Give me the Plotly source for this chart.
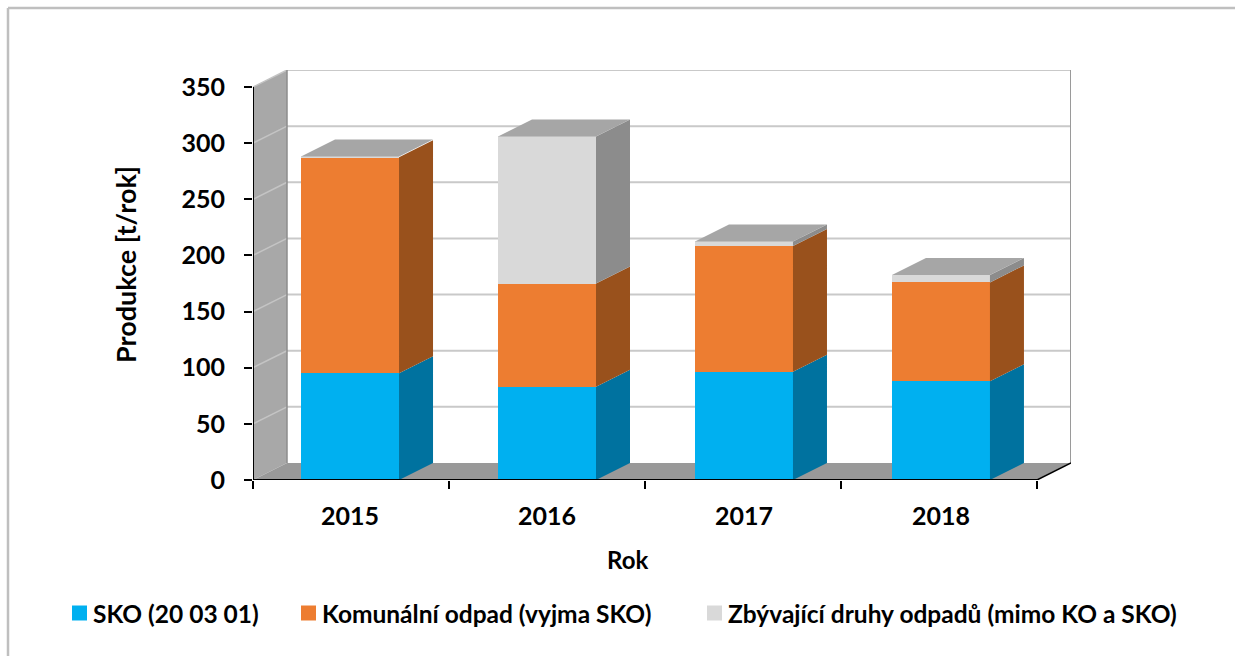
import plotly.graph_objects as go

years = ["2015", "2016", "2017", "2018"]
series_names = ["SKO (20 03 01)", "Komunální odpad (vyjma SKO)", "Zbývající druhy odpadů (mimo KO a SKO)"]
sko = [95, 83, 96.5, 88]
komunalni = [192.5, 92, 112, 88]
zbyvajici = [0.7, 131, 4, 6.5]
y_ticks = [0, 50, 100, 150, 200, 250, 300, 350]
y_title = "Produkce [t/rok]"
x_title = "Rok"

W, H = 1235, 656
X0, X1, XB = 253, 1037, 1071   # front-left, front-right, back-right pixels
Y0, Y350, YB = 480, 87, 70     # zero, 350, back-top pixels
px_x = (X1 - X0) / 4
px_y = (Y0 - Y350) / 350
DX = (XB - X1) / px_x
DY = (Y0 - 463) / px_y
XMIN, XMAX = -0.5, 3.5
BAR_W = 0.5

front = ["#00B0F0", "#ED7D31", "#D9D9D9"]
side = ["#00729F", "#99511C", "#8C8C8C"]
TOP = "#A6A6A6"

def px(x): return x / W
def py(y): return 1 - y / H

fig = go.Figure()
stack = [sko, komunalni, zbyvajici]
xs = [-0.005, 1.0, 2.005, 3.01]

for name, vals, col in zip(series_names, stack, front):
    fig.add_bar(x=xs, y=vals, name=name, width=BAR_W, marker=dict(color=col, line=dict(width=0)),
                showlegend=False, hovertemplate=name + ": %{y}<extra></extra>")

base = [0] * len(xs)
for vals, col in zip(stack, side):
    sx, sy = [], []
    for i, v in enumerate(vals):
        r = xs[i] + BAR_W / 2
        b, t = base[i], base[i] + v
        sx += [r, r + DX, r + DX, r, r, None]
        sy += [b, b + DY, t + DY, t, b, None]
    fig.add_scatter(x=sx, y=sy, mode="lines", fill="toself", fillcolor=col, line=dict(width=0),
                    showlegend=False, hoverinfo="skip")
    base = [a + c for a, c in zip(base, vals)]

tx, ty = [], []
for i, t in enumerate(base):
    l, r = xs[i] - BAR_W / 2, xs[i] + BAR_W / 2
    tx += [l, r, r + DX, l + DX, l, None]
    ty += [t, t, t + DY, t + DY, t, None]
fig.add_scatter(x=tx, y=ty, mode="lines", fill="toself", fillcolor=TOP, line=dict(width=0),
                showlegend=False, hoverinfo="skip")

shapes = []
def poly(pts, fill, layer="below"):
    d = "M" + "L".join(f"{a},{b}" for a, b in pts) + "Z"
    shapes.append(dict(type="path", path=d, xref="x", yref="y", fillcolor=fill, line=dict(width=0), layer=layer))
def seg(a, b, c, d, color, width, layer="below"):
    shapes.append(dict(type="line", x0=a, y0=b, x1=c, y1=d, xref="x", yref="y",
                       line=dict(color=color, width=width), layer=layer))

top = y_ticks[-1]
poly([(XMIN, 0), (XMIN, top), (XMIN + DX, top + DY), (XMIN + DX, DY)], "#A8A8A8")
poly([(XMIN, 0), (XMAX, 0), (XMAX + DX, DY), (XMIN + DX, DY)], "#999999")
for v in y_ticks[1:]:
    seg(XMIN + DX, v + DY, XMAX + DX, v + DY, "#C9C9C9", 2)
    seg(XMIN, v, XMIN + DX, v + DY, "#C4C4C4", 1.5)
seg(XMIN + DX, DY, XMIN + DX, top + DY, "#8C8C8C", 1.5)
seg(XMAX + DX, DY, XMAX + DX, top + DY, "#9A9A9A", 2)
seg(XMIN, 0, XMIN, top, "#000000", 2, "above")
seg(XMIN, 0, XMAX, 0, "#000000", 2, "above")
seg(XMAX, 0, XMAX + DX, DY, "#000000", 1.5, "above")

# outer frame
for a, b, c, d in [(8, 8, W, 8), (8, 8, 8, H)]:
    shapes.append(dict(type="line", xref="paper", yref="paper", x0=px(a), y0=py(b), x1=px(c), y1=py(d),
                       line=dict(color="#BFBFBF", width=2.5), layer="below"))

FONT = "Lato"
annotations = [
    dict(text=f"<b>{y_title}</b>", x=px(125), y=py(265), xref="paper", yref="paper", textangle=-90,
         xanchor="center", yanchor="middle", showarrow=False, font=dict(family=FONT, size=27, color="#000")),
    dict(text=f"<b>{x_title}</b>", x=px(627), y=py(559), xref="paper", yref="paper",
         xanchor="center", yanchor="middle", showarrow=False, font=dict(family=FONT, size=24, color="#000")),
]
legend_x = [72, 301, 707]
for name, col, lx in zip(series_names, front, legend_x):
    shapes.append(dict(type="rect", xref="paper", yref="paper", x0=px(lx), x1=px(lx + 15),
                       y0=py(620.5), y1=py(605.5), fillcolor=col, line=dict(width=0)))
    annotations.append(dict(text=f"<b>{name}</b>", x=px(lx + 19), y=py(613), xref="paper", yref="paper",
                            xanchor="left", yanchor="middle", showarrow=False,
                            font=dict(family=FONT, size=24.5, color="#000")))

fig.update_layout(
    width=W, height=H, margin=dict(l=0, r=0, t=0, b=0, autoexpand=False), paper_bgcolor="#FFFFFF", plot_bgcolor="rgba(0,0,0,0)",
    barmode="stack", showlegend=False, shapes=shapes, annotations=annotations,
    xaxis=dict(domain=[px(X0), px(XB)], range=[XMIN, XMAX + DX], tickvals=xs, ticktext=[f"<b>{y}</b>" for y in years],
               ticks="", showgrid=False, zeroline=False, showline=False, ticklabelstandoff=19, automargin=False,
               tickfont=dict(family=FONT, size=25, color="#000"),
               minor=dict(tickvals=[-0.5, 0.5, 1.5, 2.5, 3.5], ticks="outside", ticklen=8, tickwidth=1.5, tickcolor="#000", showgrid=False)),
    yaxis=dict(domain=[py(Y0), py(YB)], range=[0, (Y0 - YB) / px_y], tickvals=y_ticks, ticktext=[f"<b>{v}</b>" for v in y_ticks],
               ticks="outside", ticklen=8, tickwidth=1.5, tickcolor="#000", showgrid=False, zeroline=False, showline=False,
               ticklabelstandoff=14, automargin=False,
               tickfont=dict(family=FONT, size=25, color="#000")),
)
fig.write_html("out.html", config={"displayModeBar": False},
               post_script="document.body.style.margin='0';document.body.style.overflow='hidden';")
